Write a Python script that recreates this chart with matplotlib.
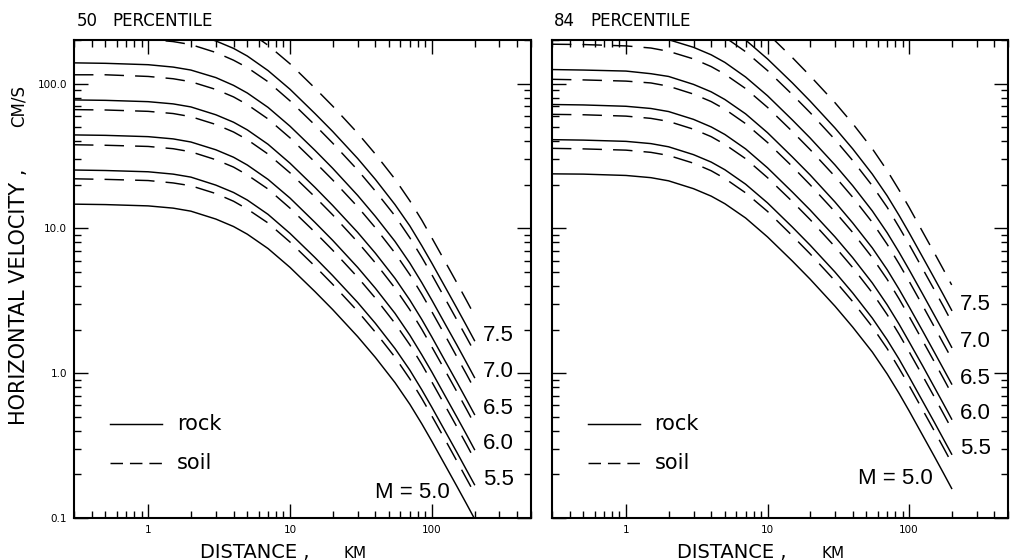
import matplotlib.pyplot as plt
from matplotlib.ticker import FixedLocator, FixedFormatter, LogLocator, NullFormatter

plt.rcParams['font.family'] = ['DejaVu Sans']
plt.rcParams['lines.scale_dashes'] = False

# distance (km) at which the attenuation curves are tabulated
distance = [0.3, 0.5, 1, 1.5, 2, 3, 4, 5, 7, 10, 15, 20, 30, 40, 55, 70, 85,
            100, 125, 150, 175, 200]
magnitudes = ['5.0', '5.5', '6.0', '6.5', '7.0', '7.5']

# peak horizontal velocity, cm/s -- 50 percentile, M = 5.0 ... 7.5
rock_50 = [
    [14.7, 14.6, 14.3, 13.8, 13.15, 11.6, 10.3, 9.12, 7.26, 5.38, 3.66, 2.75,
     1.79, 1.285, 0.861, 0.610, 0.447, 0.339, 0.229, 0.166, 0.126, 0.0989],
    [25.3, 25.1, 24.6, 23.7, 22.6, 19.9, 17.7, 15.7, 12.5, 9.24, 6.29, 4.72,
     3.08, 2.21, 1.48, 1.05, 0.768, 0.582, 0.393, 0.285, 0.216, 0.170],
    [44.2, 43.9, 43.0, 41.5, 39.5, 34.9, 31.0, 27.4, 21.8, 16.2, 11.0, 8.27,
     5.38, 3.86, 2.59, 1.83, 1.34, 1.02, 0.688, 0.499, 0.379, 0.297],
    [77.1, 76.6, 75.0, 72.4, 69.0, 60.9, 54.1, 47.9, 38.1, 28.2, 19.2, 14.4,
     9.39, 6.74, 4.52, 3.20, 2.35, 1.78, 1.20, 0.871, 0.661, 0.519],
    [139, 138, 135, 130, 124, 110, 97.2, 86.1, 68.5, 50.8, 34.6, 26.0,
     16.9, 12.1, 8.13, 5.76, 4.22, 3.20, 2.16, 1.57, 1.19, 0.934],
    [250, 248, 243, 234, 223, 197, 175, 155, 123, 91.4, 62.1, 46.7,
     30.4, 21.8, 14.6, 10.4, 7.59, 5.76, 3.89, 2.82, 2.14, 1.68],
]
soil_50 = [
    [22.0, 21.8, 21.4, 20.6, 19.7, 17.4, 15.4, 13.6, 10.9, 8.05, 5.48, 4.11,
     2.68, 1.92, 1.29, 0.913, 0.669, 0.507, 0.343, 0.248, 0.188, 0.148],
    [37.8, 37.5, 36.8, 35.5, 33.8, 29.8, 26.5, 23.4, 18.7, 13.8, 9.41, 7.07,
     4.60, 3.30, 2.21, 1.57, 1.15, 0.871, 0.589, 0.427, 0.324, 0.254],
    [66.1, 65.7, 64.3, 62.1, 59.1, 52.2, 46.3, 41.0, 32.6, 24.2, 16.5, 12.4,
     8.05, 5.78, 3.87, 2.74, 2.01, 1.52, 1.03, 0.747, 0.567, 0.445],
    [115, 115, 112, 108, 103, 91.1, 80.9, 71.6, 57.0, 42.2, 28.7, 21.6,
     14.1, 10.1, 6.76, 4.79, 3.51, 2.66, 1.80, 1.30, 0.989, 0.776],
    [208, 206, 202, 195, 186, 164, 145, 129, 103, 76.0, 51.7, 38.8,
     25.3, 18.1, 12.2, 8.61, 6.31, 4.79, 3.23, 2.34, 1.78, 1.40],
    [373, 371, 363, 351, 334, 295, 262, 232, 184, 137, 93.0, 69.9,
     45.5, 32.6, 21.9, 15.5, 11.4, 8.61, 5.82, 4.22, 3.20, 2.51],
]

# peak horizontal velocity, cm/s -- 84 percentile, M = 5.0 ... 7.5
rock_84 = [
    [23.8, 23.7, 23.2, 22.4, 21.3, 18.8, 16.7, 14.8, 11.8, 8.73, 5.94, 4.46,
     2.90, 2.08, 1.40, 0.989, 0.725, 0.550, 0.371, 0.269, 0.204, 0.160],
    [41.0, 40.7, 39.9, 38.5, 36.6, 32.3, 28.7, 25.4, 20.2, 15.0, 10.2, 7.66,
     4.99, 3.58, 2.40, 1.70, 1.25, 0.945, 0.638, 0.463, 0.351, 0.276],
    [71.7, 71.2, 69.7, 67.3, 64.1, 56.6, 50.2, 44.5, 35.4, 26.2, 17.8, 13.4,
     8.73, 6.27, 4.20, 2.97, 2.18, 1.65, 1.12, 0.809, 0.614, 0.482],
    [125, 124, 122, 117, 112, 98.7, 87.7, 77.6, 61.8, 45.8, 31.1, 23.4,
     15.2, 10.9, 7.33, 5.19, 3.80, 2.88, 1.95, 1.41, 1.07, 0.842],
    [225, 224, 219, 211, 201, 178, 158, 140, 111, 82.4, 56.0, 42.1,
     27.4, 19.7, 13.2, 9.34, 6.84, 5.19, 3.51, 2.54, 1.93, 1.51],
    [405, 402, 394, 380, 362, 319, 284, 251, 200, 148, 101, 75.7,
     49.3, 35.4, 23.7, 16.8, 12.3, 9.34, 6.31, 4.57, 3.47, 2.72],
]
soil_84 = [
    [35.7, 35.4, 34.7, 33.5, 31.9, 28.2, 25.0, 22.1, 17.6, 13.1, 8.88, 6.67,
     4.34, 3.12, 2.09, 1.48, 1.08, 0.823, 0.556, 0.403, 0.306, 0.240],
    [61.3, 60.9, 59.6, 57.5, 54.8, 48.4, 43.0, 38.0, 30.3, 22.4, 15.3, 11.5,
     7.46, 5.36, 3.59, 2.54, 1.86, 1.41, 0.955, 0.692, 0.525, 0.412],
    [107, 106, 104, 101, 95.9, 84.6, 75.1, 66.5, 52.9, 39.2, 26.7, 20.0,
     13.0, 9.37, 6.28, 4.45, 3.26, 2.47, 1.67, 1.21, 0.919, 0.721],
    [187, 186, 182, 176, 167, 148, 131, 116, 92.4, 68.5, 46.6, 35.0,
     22.8, 16.4, 11.0, 7.77, 5.69, 4.32, 2.92, 2.11, 1.60, 1.26],
    [337, 334, 327, 316, 301, 266, 236, 209, 166, 123, 83.8, 63.0,
     41.0, 29.4, 19.7, 14.0, 10.2, 7.76, 5.24, 3.80, 2.89, 2.26],
    [606, 602, 589, 569, 542, 478, 424, 376, 299, 222, 151, 113,
     73.7, 52.9, 35.5, 25.1, 18.4, 14.0, 9.43, 6.84, 5.19, 4.07],
]

x_ticks = [1, 10, 100]
x_ticklabels = ['1', '10', '100']
y_ticks = [0.1, 1, 10, 100]
y_ticklabels = ['0.1', '1.0', '10.0', '100.0']

LW = 1.05
DASH = (14, 8)
LABEL_FONT = ['Liberation Sans', 'DejaVu Sans']


def draw_panel(ax, rock, soil, pct, show_ylabels, m5_pos):
    for r in rock:
        ax.plot(distance, r, color='k', lw=LW)
    for s in soil:
        ax.plot(distance, s, color='k', lw=LW, dashes=DASH)

    ax.set_xscale('log')
    ax.set_yscale('log')
    ax.set_xlim(0.3, 500)
    ax.set_ylim(0.1, 200)

    ax.xaxis.set_major_locator(FixedLocator(x_ticks))
    ax.xaxis.set_major_formatter(FixedFormatter(x_ticklabels))
    ax.xaxis.set_minor_locator(LogLocator(base=10, subs=range(2, 10)))
    ax.xaxis.set_minor_formatter(NullFormatter())
    ax.yaxis.set_major_locator(FixedLocator(y_ticks))
    ax.yaxis.set_minor_locator(LogLocator(base=10, subs=range(2, 10)))
    ax.yaxis.set_minor_formatter(NullFormatter())
    if show_ylabels:
        ax.yaxis.set_major_formatter(FixedFormatter(y_ticklabels))
    else:
        ax.yaxis.set_major_formatter(NullFormatter())

    ax.tick_params(which='both', direction='in', top=True, right=True,
                   width=1.0, labelsize=7.5)
    ax.tick_params(which='major', length=10, pad=5)
    ax.tick_params(which='minor', length=5)
    for sp in ax.spines.values():
        sp.set_linewidth(1.5)

    # magnitude labels at the far end of the rock curves
    for m, r in zip(magnitudes[1:], rock[1:]):
        ax.annotate(m, xy=(distance[-1], r[-1]), xytext=(6, 4),
                    textcoords='offset points', va='center', ha='left',
                    fontsize=16, family=LABEL_FONT)
    ax.text(m5_pos[0], m5_pos[1], 'M = 5.0', transform=ax.transAxes,
            ha='right', va='center', fontsize=16, family=LABEL_FONT)

    # line key
    ax.plot([0.079, 0.193], [0.197, 0.197], transform=ax.transAxes,
            color='k', lw=LW)
    ax.plot([0.079, 0.193], [0.115, 0.115], transform=ax.transAxes,
            color='k', lw=LW, dashes=(9, 5))
    ax.text(0.225, 0.197, 'rock', transform=ax.transAxes, va='center',
            fontsize=15)
    ax.text(0.225, 0.115, 'soil', transform=ax.transAxes, va='center',
            fontsize=15)

    # panel heading
    ax.text(0.005, 1.029, pct, transform=ax.transAxes, va='baseline',
            fontsize=12)
    ax.text(0.085, 1.029, 'PERCENTILE', transform=ax.transAxes,
            va='baseline', fontsize=12)

    # distance label
    ax.text(0.275, -0.083, 'DISTANCE ,', transform=ax.transAxes,
            va='baseline', fontsize=14)
    ax.text(0.59, -0.083, 'KM', transform=ax.transAxes, va='baseline',
            fontsize=11)


fig = plt.figure(figsize=(10.15, 5.6), dpi=100)
ax1 = fig.add_axes([0.0729, 0.075, 0.4502, 0.8536])
ax2 = fig.add_axes([0.5438, 0.075, 0.4493, 0.8536])

draw_panel(ax1, rock_50, soil_50, '50', True, (0.823, 0.054))
draw_panel(ax2, rock_84, soil_84, '84', False, (0.836, 0.082))

fig.text(0.0187, 0.241, 'HORIZONTAL VELOCITY ,', rotation=90,
         rotation_mode='anchor', ha='left', va='center', fontsize=15)
fig.text(0.0187, 0.773, 'CM/S', rotation=90, rotation_mode='anchor',
         ha='left', va='center', fontsize=12)

fig.savefig('out.png', dpi=100)
